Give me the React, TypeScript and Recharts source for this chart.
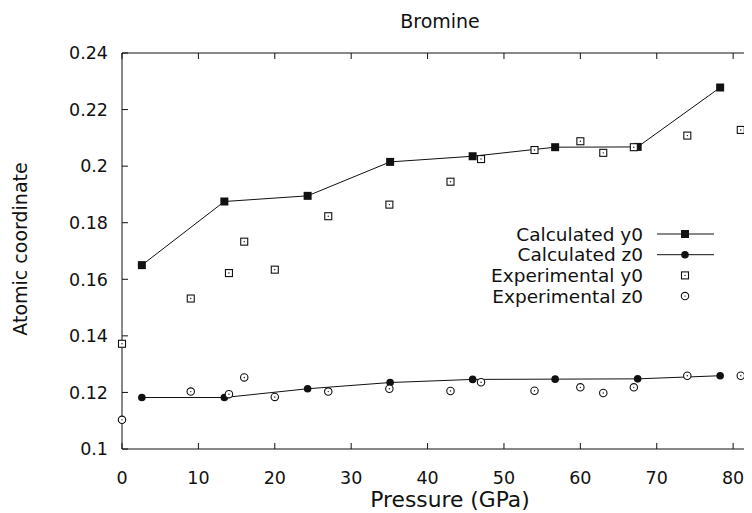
import { Legend, ReferenceLine, Scatter, ScatterChart, XAxis, YAxis } from "recharts";

// values
const calcPressure = [2.6, 13.4, 24.3, 35.1, 45.9, 56.7, 67.5, 78.3];
const calcY0 = [0.165, 0.1875, 0.1895, 0.2015, 0.2035, 0.2067, 0.2068, 0.2278];
const calcZ0 = [0.1182, 0.1182, 0.1213, 0.1235, 0.1246, 0.1247, 0.1248, 0.1259];

const expPressure = [0, 9, 14, 16, 20, 27, 35, 43, 47, 54, 60, 63, 67, 74, 81];
const expY0 = [
  0.1372, 0.1532, 0.1622, 0.1733, 0.1634, 0.1823, 0.1864, 0.1945, 0.2025, 0.2057, 0.2088, 0.2047,
  0.2067, 0.2108, 0.2128,
];
const expZ0 = [
  0.1103, 0.1203, 0.1194, 0.1253, 0.1184, 0.1203, 0.1213, 0.1205, 0.1236, 0.1206, 0.1218, 0.1198,
  0.1218, 0.1259, 0.1259,
];

const xTicks = [0, 10, 20, 30, 40, 50, 60, 70, 80];
const yTicks = [0.1, 0.12, 0.14, 0.16, 0.18, 0.2, 0.22, 0.24];

const legendNames = ["Calculated y0", "Calculated z0", "Experimental y0", "Experimental z0"];

const toPoints = (xs: number[], ys: number[]) => xs.map((x, i) => ({ x, y: ys[i] }));

const calcY0Data = toPoints(calcPressure, calcY0);
const calcZ0Data = toPoints(calcPressure, calcZ0);
const expY0Data = toPoints(expPressure, expY0);
const expZ0Data = toPoints(expPressure, expZ0);

const INK = "#111";
const FONT = "'DejaVu Sans', sans-serif";

// plot frame (svg coords), fixed by the margins / axis sizes below
const PLOT_LEFT = 114;
const PLOT_TOP = 45;
const PLOT_BOTTOM = 441;
const PLOT_RIGHT = 745;
const TICK = 6;

function FilledSquare({ cx, cy }: any) {
  return <rect x={cx - 4} y={cy - 4} width={8} height={8} fill={INK} />;
}

function FilledCircle({ cx, cy }: any) {
  return <circle cx={cx} cy={cy} r={3.8} fill={INK} />;
}

function OpenSquare({ cx, cy }: any) {
  return (
    <g>
      <rect x={cx - 3.5} y={cy - 3.5} width={7} height={7} fill="#fff" stroke={INK} strokeWidth={1.1} />
      <circle cx={cx} cy={cy} r={0.7} fill={INK} />
    </g>
  );
}

function OpenCircle({ cx, cy }: any) {
  return (
    <g>
      <circle cx={cx} cy={cy} r={3.7} fill="#fff" stroke={INK} strokeWidth={1.1} />
      <circle cx={cx} cy={cy} r={0.7} fill={INK} />
    </g>
  );
}

const legendMarkers = [FilledSquare, FilledCircle, OpenSquare, OpenCircle];

// gnuplot-style ticks: pointing inwards, mirrored on the opposite side
function BottomTick({ x, payload }: any) {
  return (
    <g>
      <line x1={x} x2={x} y1={PLOT_BOTTOM} y2={PLOT_BOTTOM - TICK} stroke={INK} />
      <line x1={x} x2={x} y1={PLOT_TOP} y2={PLOT_TOP + TICK} stroke={INK} />
      <text x={x} y={PLOT_BOTTOM + 35} textAnchor="middle" fontSize={17.5} fill={INK} fontFamily={FONT}>
        {payload.value}
      </text>
    </g>
  );
}

function LeftTick({ y, payload }: any) {
  return (
    <g>
      <line x1={PLOT_LEFT} x2={PLOT_LEFT + TICK} y1={y} y2={y} stroke={INK} />
      <line x1={PLOT_RIGHT} x2={PLOT_RIGHT - TICK} y1={y} y2={y} stroke={INK} />
      <text x={PLOT_LEFT - 14} y={y + 6.3} textAnchor="end" fontSize={17.5} fill={INK} fontFamily={FONT}>
        {String(payload.value)}
      </text>
    </g>
  );
}

function BromineLegend() {
  return (
    <svg width={330} height={90} style={{ display: "block", fontFamily: FONT }}>
      {legendNames.map((name, i) => {
        const cy = 10 + i * 20.7;
        const Marker = legendMarkers[i];
        return (
          <g key={name}>
            <text x={235} y={cy + 6.5} textAnchor="end" fontSize={18.5} fill={INK}>
              {name}
            </text>
            {i < 2 && <line x1={249} x2={306} y1={cy} y2={cy} stroke={INK} strokeWidth={1} />}
            <Marker cx={277} cy={cy} />
          </g>
        );
      })}
    </svg>
  );
}

export default function App() {
  return (
    <div style={{ width: 744, height: 505, overflow: "hidden", fontFamily: FONT }}>
      <ScatterChart width={746} height={505} margin={{ top: PLOT_TOP, right: 1, bottom: 0, left: 0 }}>
        <XAxis
          dataKey="x"
          type="number"
          domain={[0, 82.6]}
          ticks={xTicks}
          height={64}
          tickLine={false}
          stroke={INK}
          tick={BottomTick}
          label={() => (
            <text x={442} y={499} textAnchor="middle" fontSize={21.8} fill={INK} fontFamily={FONT}>
              Pressure (GPa)
            </text>
          )}
        />
        <YAxis
          dataKey="y"
          type="number"
          domain={[0.1, 0.24]}
          ticks={yTicks}
          width={PLOT_LEFT}
          tickLine={false}
          stroke={INK}
          tick={LeftTick}
          label={() => (
            <text
              x={19}
              y={241}
              textAnchor="middle"
              fontSize={19}
              fill={INK}
              fontFamily={FONT}
              transform="rotate(-90 19 241)"
            >
              Atomic coordinate
            </text>
          )}
        />
        <ReferenceLine
          y={0.24}
          stroke={INK}
          label={() => (
            <text x={432} y={20} textAnchor="middle" fontSize={19} fill={INK} fontFamily={FONT}>
              Bromine
            </text>
          )}
        />
        <Legend
          layout="horizontal"
          verticalAlign="middle"
          align="center"
          wrapperStyle={{ left: 400, top: 216, width: 330 }}
          content={() => <BromineLegend />}
        />
        <Scatter
          name="Calculated y0"
          data={calcY0Data}
          line={{ stroke: INK, strokeWidth: 1 }}
          shape={FilledSquare}
          isAnimationActive={false}
        />
        <Scatter
          name="Calculated z0"
          data={calcZ0Data}
          line={{ stroke: INK, strokeWidth: 1 }}
          shape={FilledCircle}
          isAnimationActive={false}
        />
        <Scatter name="Experimental y0" data={expY0Data} shape={OpenSquare} isAnimationActive={false} />
        <Scatter name="Experimental z0" data={expZ0Data} shape={OpenCircle} isAnimationActive={false} />
      </ScatterChart>
    </div>
  );
}
